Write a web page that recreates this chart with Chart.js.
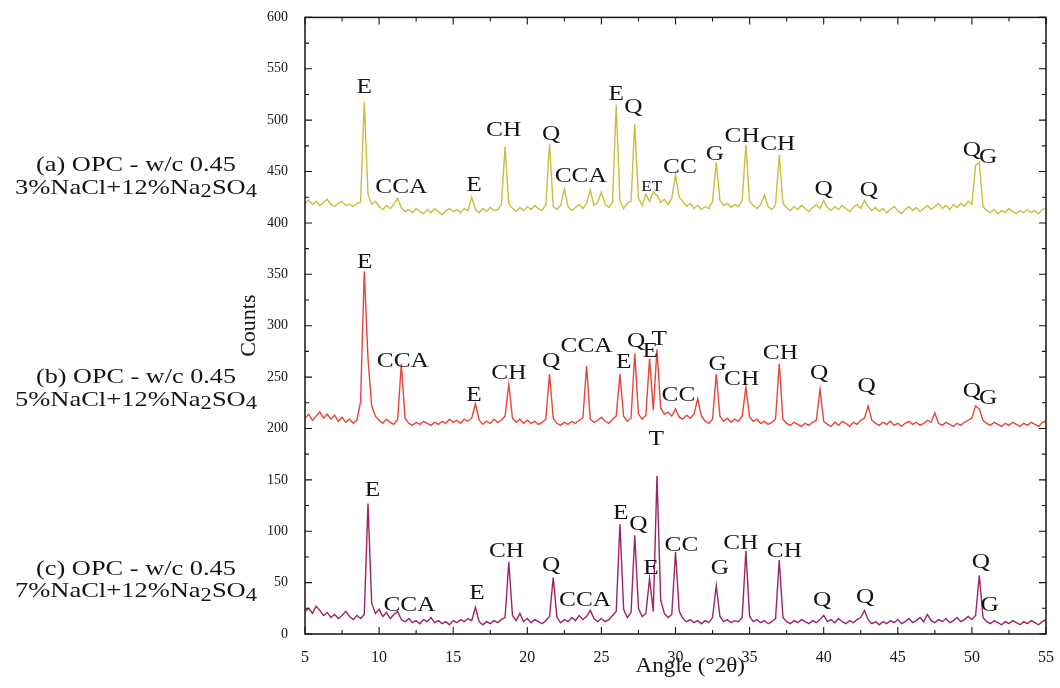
<!DOCTYPE html>
<html><head><meta charset="utf-8">
<script src="https://cdn.jsdelivr.net/npm/chart.js@4.4.1/dist/chart.umd.min.js"></script>
<style>html,body{margin:0;padding:0;background:#fff;}#wrap{width:1060px;height:688px;position:relative;}</style>
</head><body><div id="wrap"><canvas id="c" width="1060" height="688"></canvas></div>
<script>
// 2-theta angles (degrees)
const angles = [5,5.25,5.5,5.75,6,6.25,6.5,6.75,7,7.25,7.5,7.75,8,8.25,8.5,8.75,9,9.25,9.5,9.75,
10,10.25,10.5,10.75,11,11.25,11.5,11.75,12,12.25,12.5,12.75,13,13.25,13.5,13.75,14,14.25,14.5,14.75,
15,15.25,15.5,15.75,16,16.25,16.5,16.75,17,17.25,17.5,17.75,18,18.25,18.5,18.75,19,19.25,19.5,19.75,
20,20.25,20.5,20.75,21,21.25,21.5,21.75,22,22.25,22.5,22.75,23,23.25,23.5,23.75,24,24.25,24.5,24.75,
25,25.25,25.5,25.75,26,26.25,26.5,26.75,27,27.25,27.5,27.75,28,28.25,28.5,28.75,29,29.25,29.5,29.75,
30,30.25,30.5,30.75,31,31.25,31.5,31.75,32,32.25,32.5,32.75,33,33.25,33.5,33.75,34,34.25,34.5,34.75,
35,35.25,35.5,35.75,36,36.25,36.5,36.75,37,37.25,37.5,37.75,38,38.25,38.5,38.75,39,39.25,39.5,39.75,
40,40.25,40.5,40.75,41,41.25,41.5,41.75,42,42.25,42.5,42.75,43,43.25,43.5,43.75,44,44.25,44.5,44.75,
45,45.25,45.5,45.75,46,46.25,46.5,46.75,47,47.25,47.5,47.75,48,48.25,48.5,48.75,49,49.25,49.5,49.75,
50,50.25,50.5,50.75,51,51.25,51.5,51.75,52,52.25,52.5,52.75,53,53.25,53.5,53.75,54,54.25,54.5,54.75,55];

// (a) 3%NaCl+12%Na2SO4 (offset trace)
const countsA = [419,422,418,421,417,420,423,418,416,419,421,417,418,416,419,420,518,428,418,421,
416,413,417,414,418,424,415,411,413,410,414,411,409,413,410,414,411,408,412,414,
411,413,410,414,412,425,413,410,414,411,415,412,413,418,474,419,414,411,415,412,
416,413,417,414,412,418,477,416,413,417,433,416,412,415,418,414,419,432,417,420,
430,418,415,420,515,422,414,419,421,496,424,417,428,421,430,427,420,423,418,424,
447,425,421,416,419,414,417,413,416,414,421,459,422,417,419,415,418,416,422,476,
421,417,414,418,427,416,413,418,466,419,415,412,416,413,417,414,411,415,418,414,
422,415,412,416,413,417,414,411,415,418,414,422,416,412,415,411,414,410,413,416,
412,409,413,416,412,415,411,414,417,413,416,419,414,417,413,418,415,419,416,421,
418,456,459,416,412,410,413,409,412,410,414,411,409,412,410,413,410,412,409,413,414];

// (b) 5%NaCl+12%Na2SO4 (offset trace)
const countsB = [210,214,208,212,216,210,214,209,213,207,211,206,209,205,208,226,353,268,222,212,
208,205,209,206,204,209,263,210,205,203,206,204,207,205,203,206,204,207,205,209,
206,208,205,209,207,210,224,208,204,207,205,209,206,208,212,243,210,206,209,205,
208,205,207,204,206,209,253,210,205,203,206,204,207,205,208,210,261,209,206,208,
211,207,205,209,212,253,212,207,210,273,214,209,213,268,218,277,220,214,216,212,
219,211,209,213,210,214,229,212,207,205,209,253,212,207,210,206,209,207,212,240,
211,207,209,205,207,204,206,209,263,209,205,203,206,204,202,205,203,206,208,238,
207,204,202,206,203,207,205,202,206,204,208,210,222,208,205,203,206,204,207,203,
205,202,205,207,204,206,203,205,208,206,215,205,203,206,204,202,205,203,206,208,
210,222,219,208,205,203,206,204,202,205,203,206,204,202,205,203,206,204,202,206,207];

// (c) 7%NaCl+12%Na2SO4
const countsC = [22,25,20,27,23,18,21,16,19,15,18,22,17,14,18,15,19,127,30,20,
24,17,21,15,19,22,14,12,15,11,13,10,14,12,16,11,13,10,12,9,
13,11,14,12,15,13,26,12,9,12,10,13,11,14,16,70,18,13,20,12,
15,11,14,12,10,13,17,55,16,11,14,12,16,13,18,14,17,23,15,12,
15,12,14,18,22,107,24,16,21,96,25,17,20,54,22,154,33,20,16,19,
80,22,15,12,14,11,13,10,13,11,16,47,17,12,14,11,13,12,16,81,
17,12,14,11,13,10,12,15,72,16,12,10,13,11,14,12,10,13,11,14,
18,12,14,11,15,12,10,13,11,14,16,23,14,10,12,9,12,10,13,11,
14,10,12,15,11,13,16,12,19,13,11,14,12,15,11,13,16,12,14,17,
14,18,57,16,12,10,13,11,9,12,10,13,11,9,12,10,13,11,9,12,14];

// tick labels
const xTickValues = [5,10,15,20,25,30,35,40,45,50,55];
const yTickValues = [0,50,100,150,200,250,300,350,400,450,500,550,600];

// phase labels
const peakTextA = ['E','CCA','E','CH','Q','CCA','E','Q','ET','CC','G','CH','CH','Q','Q','Q','G'];
const peakXA    = [9.0,11.5,16.4,18.4,21.6,23.6,26.0,27.15,28.4,30.3,32.65,34.5,36.9,40.0,43.05,50.0,51.1];
const peakYA    = [532,435,437,490,486,445,525,513,435,454,467,484,477,433,432,471,464];

const peakTextB = ['E','CCA','E','CH','Q','CCA','E','Q','E','T','CC','G','CH','CH','Q','Q','Q','G'];
const peakXB    = [9.03,11.6,16.4,18.76,21.6,24.0,26.5,27.35,28.3,28.9,30.2,32.85,34.46,37.08,39.7,42.9,50.0,51.1];
const peakYB    = [362,265,232,254,265,280,264,285,275,287,232,263,248,273,254,241,236,229];

const peakTextC = ['E','CCA','E','CH','Q','CCA','E','Q','E','T','CC','G','CH','CH','Q','Q','Q','G'];
const peakXC    = [9.56,12.05,16.6,18.6,21.6,23.9,26.3,27.5,28.35,28.7,30.4,33.0,34.4,37.35,39.9,42.8,50.6,51.2];
const peakYC    = [140,28,40,81,67,33,118,107,64,190,86,64,88,81,33,36,70,28];

// sample captions (left side); "_" marks a subscript character
const sampleLine1 = ['(a) OPC - w/c 0.45','(b) OPC - w/c 0.45','(c) OPC - w/c 0.45'];
const sampleLine2 = ['3%NaCl+12%Na_2SO_4','5%NaCl+12%Na_2SO_4','7%NaCl+12%Na_2SO_4'];
const sampleY1 = [456,250,63];
const sampleY2 = [434,227,41];

const seriesColors = ['#c8bf3e','#e8443c','#9c2462'];
const SERIF = '"Liberation Serif","Times New Roman",serif';

function drawScaled(ctx, text, px, py, size, sx){
  ctx.save();
  ctx.font = size + 'px ' + SERIF;
  ctx.textAlign = 'center'; ctx.textBaseline = 'middle';
  ctx.translate(px, py); ctx.scale(sx, 1);
  ctx.fillText(text, 0, 0);
  ctx.restore();
}
function drawRich(ctx, str, cx, cy, size, targetW){
  const segs = [];
  for (let i = 0; i < str.length; i++){
    if (str[i] === '_' && i + 1 < str.length){ segs.push({t:str[i+1], sub:true}); i++; }
    else {
      if (segs.length && !segs[segs.length-1].sub) segs[segs.length-1].t += str[i];
      else segs.push({t:str[i], sub:false});
    }
  }
  ctx.save();
  let total = 0;
  segs.forEach(s => { ctx.font = (s.sub ? size*0.85 : size) + 'px ' + SERIF; s.w = ctx.measureText(s.t).width; total += s.w; });
  const sx = targetW / total;
  ctx.translate(cx, cy); ctx.scale(sx, 1);
  ctx.textAlign = 'left'; ctx.textBaseline = 'middle';
  let x0 = -total / 2;
  segs.forEach(s => {
    ctx.font = (s.sub ? size*0.85 : size) + 'px ' + SERIF;
    ctx.fillText(s.t, x0, s.sub ? 4 : 0);
    x0 += s.w;
  });
  ctx.restore();
}

const overlay = {
  id: 'overlay',
  afterDatasetsDraw(chart){
    const {ctx, chartArea: ca, scales: {x, y}} = chart;
    ctx.save();
    ctx.strokeStyle = '#151515'; ctx.fillStyle = '#151515';
    ctx.lineWidth = 1.5;
    ctx.strokeRect(ca.left, ca.top, ca.right - ca.left, ca.bottom - ca.top);
    ctx.lineWidth = 1.1;
    ctx.beginPath();
    for (let v = x.min; v <= x.max + 1e-9; v += 2.5){
      const px = x.getPixelForValue(v);
      const L = (Math.abs(v % 5) < 1e-6) ? 7 : 4;
      ctx.moveTo(px, ca.bottom); ctx.lineTo(px, ca.bottom - L);
      ctx.moveTo(px, ca.top); ctx.lineTo(px, ca.top + L);
    }
    for (let v = y.min; v <= y.max + 1e-9; v += 25){
      const py = y.getPixelForValue(v);
      const L = (Math.abs(v % 50) < 1e-6) ? 7 : 4;
      ctx.moveTo(ca.left, py); ctx.lineTo(ca.left + L, py);
      ctx.moveTo(ca.right, py); ctx.lineTo(ca.right - L, py);
    }
    ctx.stroke();

    const groups = [[peakTextA,peakXA,peakYA],[peakTextB,peakXB,peakYB],[peakTextC,peakXC,peakYC]];
    groups.forEach(([t, xs, ys]) => {
      t.forEach((s, i) => {
        const small = (s === 'ET');
        drawScaled(ctx, s, x.getPixelForValue(xs[i]), y.getPixelForValue(ys[i]), small ? 15 : 22, 1.15);
      });
    });

    for (let k = 0; k < 3; k++){
      drawRich(ctx, sampleLine1[k], 136, y.getPixelForValue(sampleY1[k]), 21, 200);
      drawRich(ctx, sampleLine2[k], 136, y.getPixelForValue(sampleY2[k]), 21, 242);
    }

    // x axis title
    drawScaled(ctx, 'Angle (\u00b02\u03b8)', x.getPixelForValue(31), ca.bottom + 32, 22, 1.05);
    ctx.restore();
  }
};

const mk = (vals) => angles.map((a, i) => ({x: a, y: vals[i]}));

new Chart(document.getElementById('c'), {
  type: 'line',
  data: {
    datasets: [
      {label: '(a) 3%NaCl+12%Na2SO4', data: mk(countsA), borderColor: seriesColors[0], borderWidth: 1.4, pointRadius: 0, tension: 0},
      {label: '(b) 5%NaCl+12%Na2SO4', data: mk(countsB), borderColor: seriesColors[1], borderWidth: 1.4, pointRadius: 0, tension: 0},
      {label: '(c) 7%NaCl+12%Na2SO4', data: mk(countsC), borderColor: seriesColors[2], borderWidth: 1.4, pointRadius: 0, tension: 0}
    ]
  },
  options: {
    responsive: false, animation: false, devicePixelRatio: 1,
    layout: {padding: {left: 228, right: 10, top: 15, bottom: 4}},
    plugins: {legend: {display: false}, tooltip: {enabled: false}},
    scales: {
      x: {
        type: 'linear', min: 5, max: 55,
        afterBuildTicks: s => { s.ticks = xTickValues.map(v => ({value: v})); },
        afterFit: s => { s.height = 50; },
        grid: {display: false}, border: {display: false},
        ticks: {color: '#151515', padding: 6, font: {family: SERIF, size: 16}, maxRotation: 0}
      },
      y: {
        min: 0, max: 600,
        afterBuildTicks: s => { s.ticks = yTickValues.map(v => ({value: v})); },
        afterFit: s => { s.width = 77; },
        grid: {display: false}, border: {display: false},
        ticks: {color: '#151515', padding: 9, font: {family: SERIF, size: 14}},
        title: {display: true, text: 'Counts', color: '#151515', font: {family: SERIF, size: 22}, padding: {top: 8, bottom: 0}}
      }
    }
  },
  plugins: [overlay]
});
</script></body></html>
